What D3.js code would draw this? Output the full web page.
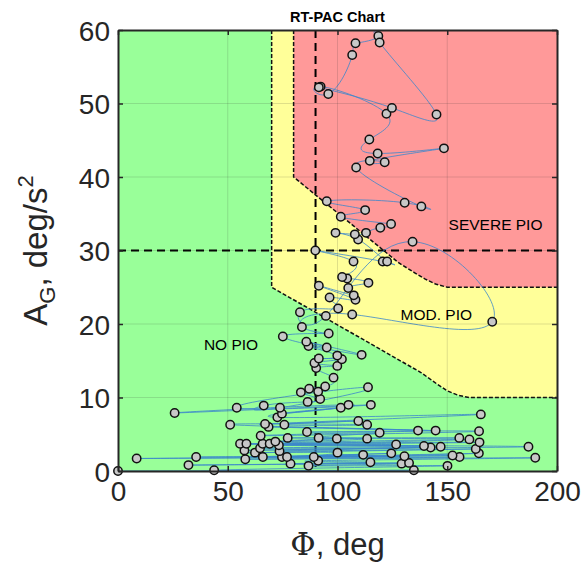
<!DOCTYPE html>
<html>
<head>
<meta charset="utf-8">
<script src="https://cdn.jsdelivr.net/npm/d3@7"></script>
<style>
  html, body { margin: 0; padding: 0; background: #fff; }
  svg { display: block; }
  text { font-family: "Liberation Sans", Arial, Helvetica, sans-serif; fill: #262626; }
</style>
</head>
<body>
<svg id="chart" width="587" height="564"></svg>
<script>
// Trajectory samples in time order: roll attitude Φ (deg) and PIO rating parameter A_G (deg/s²)
const phi = [
  0, 134.8, 43.8, 150.1, 86.8, 129.2, 32.1, 132.6, 78.6, 115, 91.2, 190.1, 58, 155.6, 8.5, 130.5,
  35.6, 152.4, 66, 111.7, 74.7, 124.5, 77, 164.4, 89.2, 100, 62.4, 163, 73.6, 142.4, 57.6, 147,
  64.7, 187, 73.3, 139.4, 55.6, 126.7, 58.5, 164.7, 65.9, 160.1, 69.1, 99.7, 71.7, 113.5, 77.3, 155.5,
  91.4, 119.2, 65, 164.5, 86.1, 136.7, 68.6, 144.7, 51.1, 113.5, 75.8, 109.5, 67, 165.3, 72.6, 101.5,
  74.7, 105, 25.8, 115.2, 54.1, 113.9, 73.8, 66.4, 86.4, 92.1, 83.3, 91.2, 87.1, 94.4,
  98.2, 90.3, 99.9, 89.5, 102, 91.5, 99.9, 86.8, 111, 85.8, 95.1, 75.1, 96, 83.8, 106.7, 170.5,
  134.2, 94.7, 82.9, 100.3, 96.4, 108.2, 91.5, 107.4, 104.9, 114.1, 104.4, 102.1, 107.3, 89.9, 120.6, 122.6,
  109.4, 99.1, 107.9, 113, 119.5, 124.4, 101.5, 112.6, 95.1, 130.6, 138.2,
  108.5, 121.5, 114.7, 148.5, 118.3, 114.5, 122.3, 92.3, 95.8, 106.7, 108.2, 118.6, 119.2, 145.1, 124.8, 91.5
];
const ag = [
  0, 0.1, 0.1, 0.7, 0.7, 1.0, 0.8, 1.1, 1.0, 1.2, 1.4, 1.8, 1.6, 1.9, 1.7, 2.0,
  1.9, 2.1, 1.9, 2.2, 1.9, 2.4, 1.9, 2.4, 1.9, 2.5, 2.5, 3.0, 2.7, 3.2, 2.8, 3.3,
  3.1, 3.3, 3.5, 3.4, 3.7, 3.6, 3.7, 3.9, 3.7, 4.3, 3.7, 4.4, 4.0, 4.4, 4.5, 4.5,
  4.5, 5.2, 4.8, 5.4, 5.3, 5.5, 6.0, 5.5, 6.3, 6.3, 6.3, 6.8, 6.4, 7.7, 7.3, 8.6,
  7.8, 9.0, 7.9, 9.0, 8.6, 11.4, 8.6, 8.9, 9.4, 9.8, 10.7, 10.8, 11.2, 11.5,
  12.7, 14.0, 14.3, 14.7, 15.2, 15.3, 15.7, 17.0, 15.8, 17.6, 16.8, 18.3, 18.7, 19.6, 21.3, 20.3,
  31.2, 21.1, 21.6, 22.1, 23.6, 23.3, 25.2, 23.9, 24.9, 25.6, 26.2, 26.4, 28.5, 30.0, 28.5, 28.5,
  31.5, 32.4, 32.2, 32.4, 33.1, 33.6, 34.6, 35.5, 36.7, 36.5, 36.0,
  41.3, 42.0, 42.2, 43.9, 43.2, 45.1, 48.6, 52.3, 51.3, 56.6, 58.2, 59.2, 58.3, 48.5, 49.4, 52.2
];

// Rating region boundaries (Φ, A_G)
const modBoundPhi = [70, 70, 138, 145, 150, 155, 160, 200];
const modBoundAg  = [60, 25, 13.4, 11.9, 10.9, 10.3, 10, 10];
const sevBoundPhi = [80, 80, 128, 135, 140, 145, 150, 200];
const sevBoundAg  = [60, 40, 28.3, 27, 26.1, 25.4, 25, 25];

// Reference thresholds
const phiThreshold = 90;
const agThreshold = 30;

// Axis ticks
const xTicks = [0, 50, 100, 150, 200];
const yTicks = [0, 10, 20, 30, 40, 50, 60];

// Region labels
const regionLabels = ["NO PIO", "MOD. PIO", "SEVERE PIO"];
const regionLabelPhi = [51.5, 145, 172];
const regionLabelAg = [16.5, 20.5, 32.8];

const svg = d3.select("#chart");
const pLeft = 118, pRight = 557, pTop = 30, pBottom = 471;

const x = d3.scaleLinear().domain([0, 200]).range([pLeft, pRight]);
const y = d3.scaleLinear().domain([0, 60]).range([pBottom, pTop]);

svg.append("defs").append("clipPath").attr("id", "plotClip")
  .append("rect").attr("x", pLeft).attr("y", pTop).attr("width", pRight - pLeft).attr("height", pBottom - pTop);

const zone = svg.append("g").attr("clip-path", "url(#plotClip)");

// Green background (no PIO)
zone.append("rect")
  .attr("x", pLeft).attr("y", pTop).attr("width", pRight - pLeft).attr("height", pBottom - pTop)
  .attr("fill", "#99ff99");

const modPts = modBoundPhi.map((p, i) => [p, modBoundAg[i]]);
const sevPts = sevBoundPhi.map((p, i) => [p, sevBoundAg[i]]);
const poly = d3.line().x(d => x(d[0])).y(d => y(d[1]));

// Moderate PIO region
zone.append("path")
  .attr("d", poly(modPts.concat([[200, 60]])) + "Z")
  .attr("fill", "#ffff99");
// Severe PIO region
zone.append("path")
  .attr("d", poly(sevPts.concat([[200, 60]])) + "Z")
  .attr("fill", "#ff9999");

// Grid
const grid = svg.append("g").attr("stroke", "#262626").attr("stroke-opacity", 0.15).attr("stroke-width", 1);
xTicks.slice(1, -1).forEach(t => {
  grid.append("line").attr("x1", x(t)).attr("x2", x(t)).attr("y1", pTop).attr("y2", pBottom);
});
yTicks.slice(1, -1).forEach(t => {
  grid.append("line").attr("x1", pLeft).attr("x2", pRight).attr("y1", y(t)).attr("y2", y(t));
});

// Region boundaries (fine dashed)
[modPts, sevPts].forEach(pts => {
  zone.append("path")
    .attr("d", poly(pts))
    .attr("fill", "none")
    .attr("stroke", "#111")
    .attr("stroke-width", 1.5)
    .attr("stroke-dasharray", "4,2");
});

// Threshold lines (heavy dashed)
zone.append("line")
  .attr("x1", x(phiThreshold)).attr("x2", x(phiThreshold))
  .attr("y1", pTop).attr("y2", pBottom)
  .attr("stroke", "#000").attr("stroke-width", 2).attr("stroke-dasharray", "8,5");
zone.append("line")
  .attr("x1", pLeft).attr("x2", pRight)
  .attr("y1", y(agThreshold)).attr("y2", y(agThreshold))
  .attr("stroke", "#000").attr("stroke-width", 2).attr("stroke-dasharray", "8,5");

// Region labels
regionLabels.forEach((t, i) => {
  svg.append("text")
    .attr("x", x(regionLabelPhi[i])).attr("y", y(regionLabelAg[i]))
    .attr("text-anchor", "middle")
    .attr("font-size", 15.5)
    .style("fill", "#000")
    .text(t);
});

// Trajectory, smoothed with a spline through the samples
const traj = phi.map((p, i) => [p, ag[i]]);
zone.append("path")
  .attr("d", d3.line().x(d => x(d[0])).y(d => y(d[1])).curve(d3.curveNatural)(traj))
  .attr("fill", "none")
  .attr("stroke", "#3b87cc")
  .attr("stroke-width", 0.8);

// Samples
svg.append("g").selectAll("circle").data(traj).join("circle")
  .attr("cx", d => x(d[0])).attr("cy", d => y(d[1]))
  .attr("r", 4.2)
  .attr("fill", "#c8c8c8")
  .attr("stroke", "#111")
  .attr("stroke-width", 1.5);

// Axes with inward ticks on all four sides
const axisColor = "#262626";
const tickLen = 5;
const xAxisB = svg.append("g").attr("transform", `translate(0,${pBottom})`)
  .call(d3.axisBottom(x).tickValues(xTicks).tickSize(-tickLen).tickPadding(10).tickSizeOuter(0));
const xAxisT = svg.append("g").attr("transform", `translate(0,${pTop})`)
  .call(d3.axisTop(x).tickValues(xTicks).tickSize(-tickLen).tickFormat("").tickSizeOuter(0));
const yAxisL = svg.append("g").attr("transform", `translate(${pLeft},0)`)
  .call(d3.axisLeft(y).tickValues(yTicks).tickSize(-tickLen).tickPadding(8).tickSizeOuter(0));
const yAxisR = svg.append("g").attr("transform", `translate(${pRight},0)`)
  .call(d3.axisRight(y).tickValues(yTicks).tickSize(-tickLen).tickFormat("").tickSizeOuter(0));

[xAxisB, xAxisT, yAxisL, yAxisR].forEach(g => {
  g.select(".domain").attr("stroke", axisColor).attr("stroke-width", 2);
  g.selectAll(".tick line").attr("stroke", axisColor).attr("stroke-width", 1.5);
  g.selectAll(".tick text")
    .attr("font-size", 28)
    .style("fill", axisColor)
    .attr("font-family", "'Liberation Sans', Arial, sans-serif");
});
xAxisB.selectAll(".tick text").attr("dy", "0.71em");
yAxisL.selectAll(".tick text").attr("dy", "0.36em");

// Title
svg.append("text")
  .attr("x", (pLeft + pRight) / 2).attr("y", 22)
  .attr("text-anchor", "middle")
  .attr("font-size", 14.5).attr("font-weight", "bold")
  .style("fill", "#000")
  .text("RT-PAC Chart");

// X axis label
const xl = svg.append("text")
  .attr("x", (pLeft + pRight) / 2).attr("y", 555)
  .attr("text-anchor", "middle")
  .attr("font-size", 31);
xl.append("tspan").attr("font-family", "'DejaVu Serif', 'Liberation Serif', serif").text("Φ");
xl.append("tspan").text(", deg");

// Y axis label
const yl = svg.append("text")
  .attr("transform", `translate(47,${(pTop + pBottom) / 2}) rotate(-90)`)
  .attr("text-anchor", "middle")
  .attr("font-size", 33);
yl.append("tspan").text("A");
yl.append("tspan").attr("font-size", 22).attr("dy", 8).text("G");
yl.append("tspan").attr("dy", -8).text(", deg/s");
yl.append("tspan").attr("font-size", 22).attr("dy", -14).text("2");
</script>
</body>
</html>
